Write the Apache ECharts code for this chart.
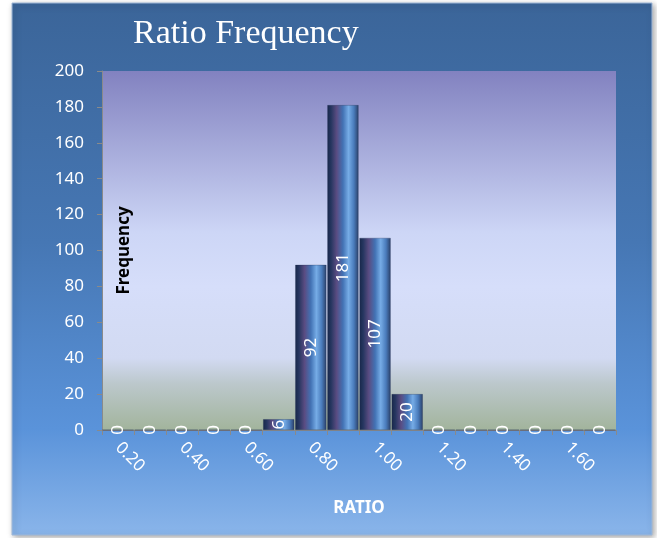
<!DOCTYPE html>
<html>
<head>
<meta charset="utf-8">
<script src="https://cdn.jsdelivr.net/npm/echarts@6/dist/echarts.min.js"></script>
<style>
html,body{margin:0;padding:0;background:#ffffff;}
#chart{width:657px;height:538px;}
</style>
</head>
<body>
<div id="chart"></div>
<script>
const categories = ['0.20','0.30','0.40','0.50','0.60','0.70','0.80','0.90','1.00','1.10','1.20','1.30','1.40','1.50','1.60','1.70'];
const frequencies = [0,0,0,0,0,6,92,181,107,20,0,0,0,0,0,0];
const yTicks = {min:0, max:200, interval:20};

const chart = echarts.init(document.getElementById('chart'));
const G = echarts.graphic.LinearGradient;
const option = {
  animation:false,
  graphic:[{
    type:'rect', z:-100, silent:true,
    shape:{x:12,y:3,width:640,height:532},
    style:{
      fill:new G(0,0,0,1,[{offset:0,color:'#3b6599'},{offset:0.45,color:'#4677b4'},{offset:0.8,color:'#5a93da'},{offset:1,color:'#8ab5ea'}]),
      stroke:'#9fb8d8', lineWidth:1,
      shadowBlur:6, shadowColor:'rgba(0,0,0,0.35)', shadowOffsetX:2, shadowOffsetY:2
    }
  }],
  title:{
    text:'Ratio Frequency', left:128, top:12,
    textStyle:{color:'#ffffff', fontFamily:'Liberation Serif', fontWeight:'normal', fontSize:34}
  },
  grid:{
    left:102, right:41, top:71, bottom:108, show:true, borderWidth:0,
    backgroundColor:new G(0,0,0,1,[{offset:0,color:'#8282c0'},{offset:0.45,color:'#cdd6f6'},{offset:0.6,color:'#d6defa'},{offset:0.8,color:'#d2daf2'},{offset:0.87,color:'#bcc8cc'},{offset:1,color:'#a2b49c'}])
  },
  xAxis:{
    type:'category', data:categories,
    name:'RATIO', nameLocation:'middle', nameGap:70,
    nameTextStyle:{color:'#ffffff', fontWeight:'bold', fontSize:17, fontFamily:'Noto Sans'},
    axisLine:{lineStyle:{color:'#8a8a8a', width:1}},
    axisTick:{show:true, interval:0, length:5, lineStyle:{color:'#8a8a8a'}},
    axisLabel:{interval:1, rotate:-45, margin:15, color:'#ffffff', fontSize:17, fontFamily:'Noto Sans'}
  },
  yAxis:{
    type:'value', min:yTicks.min, max:yTicks.max, interval:yTicks.interval,
    name:'Frequency', nameLocation:'middle', nameGap:-31, nameRotate:90,
    nameTextStyle:{color:'#000000', fontWeight:'bold', fontSize:17, fontFamily:'Noto Sans'},
    axisLine:{show:true, lineStyle:{color:'#8a8a8a', width:1}},
    axisTick:{show:true, length:5, lineStyle:{color:'#8a8a8a'}},
    splitLine:{show:false},
    axisLabel:{color:'#ffffff', fontSize:17, margin:18, fontFamily:'Noto Sans'}
  },
  series:[{
    type:'bar', data:frequencies, barCategoryGap:'3%',
    itemStyle:{
      color:new G(0,0,1,0,[{offset:0,color:'#18284a'},{offset:0.12,color:'#263660'},{offset:0.3,color:'#5a4c82'},{offset:0.5,color:'#4272b4'},{offset:0.68,color:'#76ace6'},{offset:0.85,color:'#4a7cbc'},{offset:1,color:'#2b4068'}]),
      borderColor:'rgba(30,45,80,0.6)', borderWidth:0.5
    },
    label:{show:true, position:'inside', rotate:90, color:'#ffffff', fontSize:17, fontFamily:'Noto Sans'}
  }]
};
chart.setOption(option);
</script>
</body>
</html>
